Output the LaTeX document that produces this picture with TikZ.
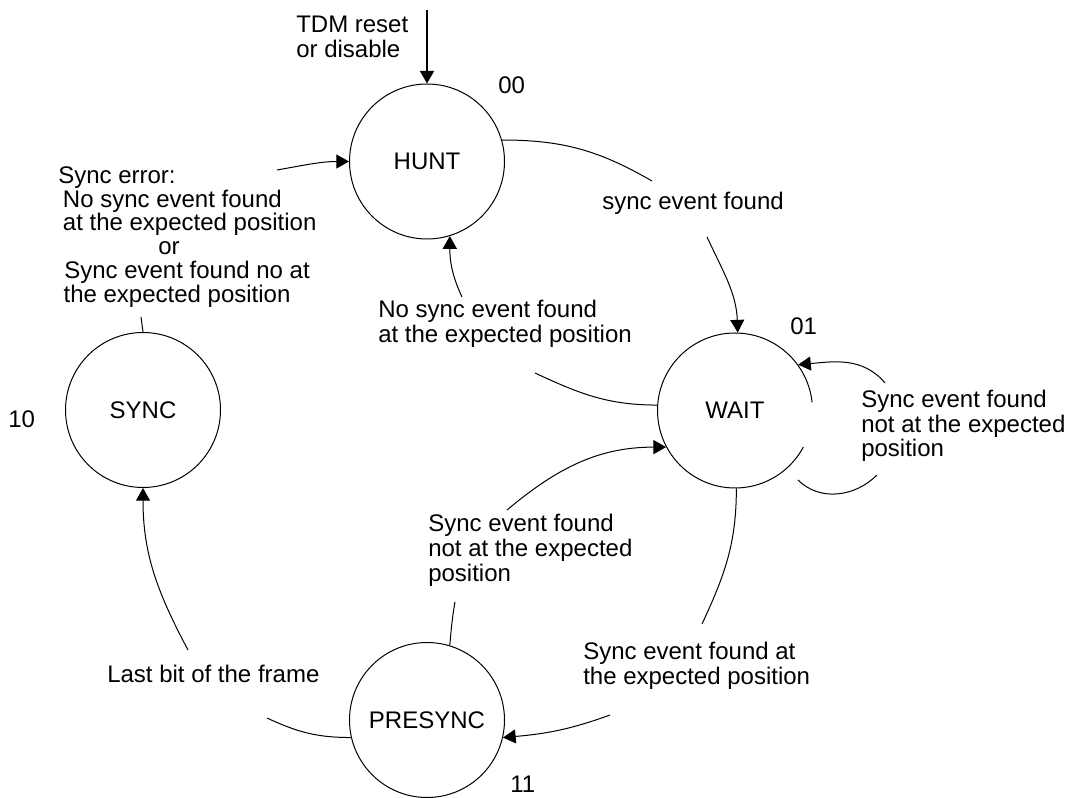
\documentclass[tikz,border=0pt]{standalone}
\usepackage{fontspec}
\setmainfont{Liberation Sans}
\usetikzlibrary{arrows.meta}
\begin{document}
\begin{tikzpicture}[x=0.75pt,y=0.75pt,
  every node/.style={font=\fontsize{18}{18.4}\selectfont},
  state/.style={circle,draw,line width=0.75pt,minimum size=116.25pt,inner sep=0pt},
  lbl/.style={anchor=base west,inner sep=0pt,align=left},
  conn/.style={line width=0.75pt},
  arr/.style={conn,-{Triangle[length=9.5pt,width=10.5pt]}}
]
\useasboundingbox (0,0) rectangle (1068,-798);

% states
\node[state] (hunt) at (427,-161.5) {HUNT};
\node[state] (wait) at (735,-410.5) {WAIT};
\node[state] (sync) at (143,-410) {SYNC};
\node[state] (presync) at (427,-720) {PRESYNC};

% gap in WAIT circle
\draw[white,line width=2.5pt] (wait.center) ++(6:58.125pt) arc[start angle=6,end angle=-28,radius=58.125pt];

% state codes
\node[lbl] (s00) at (498,-94) {00};
\node[lbl] (s01) at (790,-335) {01};
\node[lbl] (s10) at (8,-428) {10};
\node[lbl] (s11) at (510,-792) {11};

% labels (anchor = baseline of the last line)
\node[lbl] (ltdm) at (296,-57.5) {TDM reset\\or disable};
\node[lbl,font=\fontsize{18}{17.9}\selectfont] (lerr) at (58,-302.5) {Sync error:\\\hspace*{3.5pt}No sync event found\\\hspace*{3.5pt}at the expected position\\\hspace*{75pt}or\\\hspace*{4.5pt}Sync event found no at\\\hspace*{4pt}the expected position};
\node[lbl] (lsef) at (602,-210) {sync event found};
\node[lbl] (lnosync) at (378,-342.5) {No sync event found\\at the expected position};
\node[lbl] (lloop) at (861,-457) {Sync event found\\not at the expected\\position};
\node[lbl] (lpre) at (428,-581) {Sync event found\\not at the expected\\position};
\node[lbl] (lat) at (583,-684) {Sync event found at\\the expected position};
\node[lbl] (llast) at (107,-682) {Last bit of the frame};

% coordinates
\coordinate (init) at (427,-10);
\coordinate (a1) at (141,-317);
\coordinate (a2) at (277,-170);
\coordinate (c1) at (652,-181);
\coordinate (c2) at (707,-237);
\coordinate (d1) at (535,-373);
\coordinate (d2) at (462,-297);
\coordinate (l1) at (885,-383);
\coordinate (l2) at (798,-480);
\coordinate (l3) at (877,-475);
\coordinate (f1) at (702,-624);
\coordinate (f2) at (610,-715);
\coordinate (g1) at (455,-602);
\coordinate (g2) at (507,-510);
\coordinate (h1) at (267,-718);
\coordinate (h2) at (188,-650);

% connectors
\draw[arr,line width=1.5pt] (init) -- (hunt);
\draw[conn] (sync.north) -- (a1);
\draw[arr] (a2) to[out=10,in=180] (hunt.west);
\draw[conn] (hunt.16) to[out=0,in=150] (c1);
\draw[arr] (c2) to[out=-65,in=92] (wait.88);
\draw[conn] (wait.176) to[out=180,in=-25] (d1);
\draw[arr] (d2) to[out=115,in=-90] (hunt.-73);
\draw[arr] (l1) to[out=130,in=5] (wait.36);
\draw[conn] (l2) to[out=-45,in=-135] (l3);
\draw[conn] (wait.-89) to[out=-90,in=65] (f1);
\draw[arr] (f2) to[out=200,in=5] (presync.-13);
\draw[conn] (presync.73) to[out=85,in=-100] (g1);
\draw[arr] (g2) to[out=40,in=180] (wait.208);
\draw[conn] (presync.193) to[out=180,in=-25] (h1);
\draw[arr] (h2) to[out=118,in=-90] (sync.south);
\end{tikzpicture}
\end{document}
